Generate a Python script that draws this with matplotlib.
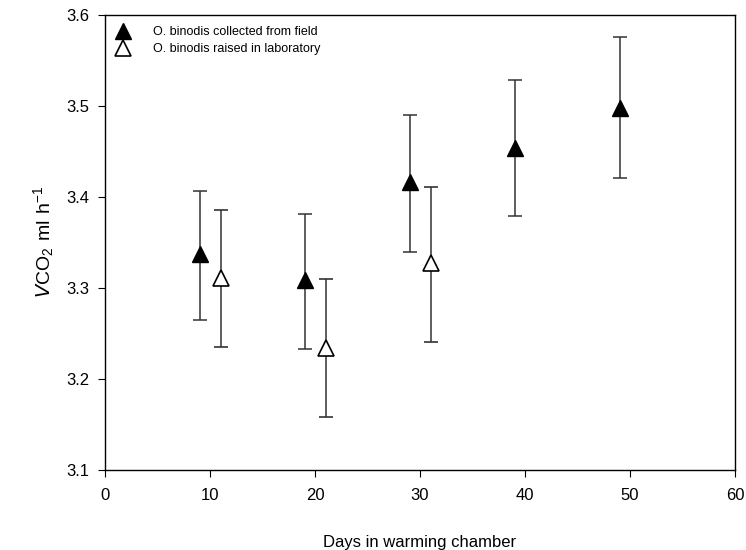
import matplotlib
matplotlib.use("Agg")
import numpy as np
import matplotlib.pyplot as plt

plt.rcParams["font.family"] = ["Liberation Sans", "DejaVu Sans"]

# O. binodis collected from field
field_days = [9, 19, 29, 39, 49]
field_mean = [3.337, 3.309, 3.416, 3.454, 3.498]
field_lo = [3.265, 3.233, 3.339, 3.379, 3.421]
field_hi = [3.407, 3.381, 3.490, 3.528, 3.576]

# O. binodis raised in laboratory
lab_days = [11, 21, 31]
lab_mean = [3.311, 3.234, 3.327]
lab_lo = [3.235, 3.158, 3.241]
lab_hi = [3.386, 3.310, 3.411]


def yerr(mean, lo, hi):
    m = np.array(mean)
    return [m - np.array(lo), np.array(hi) - m]


fig = plt.figure(figsize=(7.46, 5.5), dpi=100)
ax = fig.add_axes([0.1408, 0.1455, 0.8445, 0.8273])

eb1 = ax.errorbar(field_days, field_mean, yerr=yerr(field_mean, field_lo, field_hi),
                  fmt="^", color="black", ecolor="#333333", elinewidth=1.1, capsize=5,
                  capthick=1.1, markersize=12, mfc="black", mec="black", zorder=3)
eb2 = ax.errorbar(lab_days, lab_mean, yerr=yerr(lab_mean, lab_lo, lab_hi),
                  fmt="^", color="black", ecolor="#333333", elinewidth=1.1, capsize=5,
                  capthick=1.1, markersize=12, mfc="white", mec="black", mew=1.2,
                  zorder=3)

ax.set_xlim(0, 60)
ax.set_ylim(3.1, 3.6)
ax.set_xticks(np.arange(0, 61, 10))
ax.set_yticks(np.arange(3.1, 3.61, 0.1))
ax.set_yticklabels([f"{v:.1f}" for v in np.arange(3.1, 3.61, 0.1)])
ax.tick_params(direction="out", length=5, labelsize=12, top=False, right=False,
               colors="black")
ax.tick_params(axis="x", pad=8)
ax.tick_params(axis="y", pad=6)
for s in ax.spines.values():
    s.set_linewidth(1.0)

ax.set_xlabel("Days in warming chamber", fontsize=12, labelpad=23)
ax.set_ylabel(r"$\mathit{V}\mathregular{CO_2\ ml\ h^{-1}}$", fontsize=14, labelpad=8)

# legend shows only the triangles, no error bar stubs
ax.legend([eb1[0], eb2[0]],
          ["O. binodis collected from field", "O. binodis raised in laboratory"],
          loc="upper left", frameon=False, fontsize=9, handletextpad=1.8,
          borderaxespad=0.6, handlelength=1.1, labelspacing=0.42,
          borderpad=0.3)

fig.savefig("out.png", dpi=100)
